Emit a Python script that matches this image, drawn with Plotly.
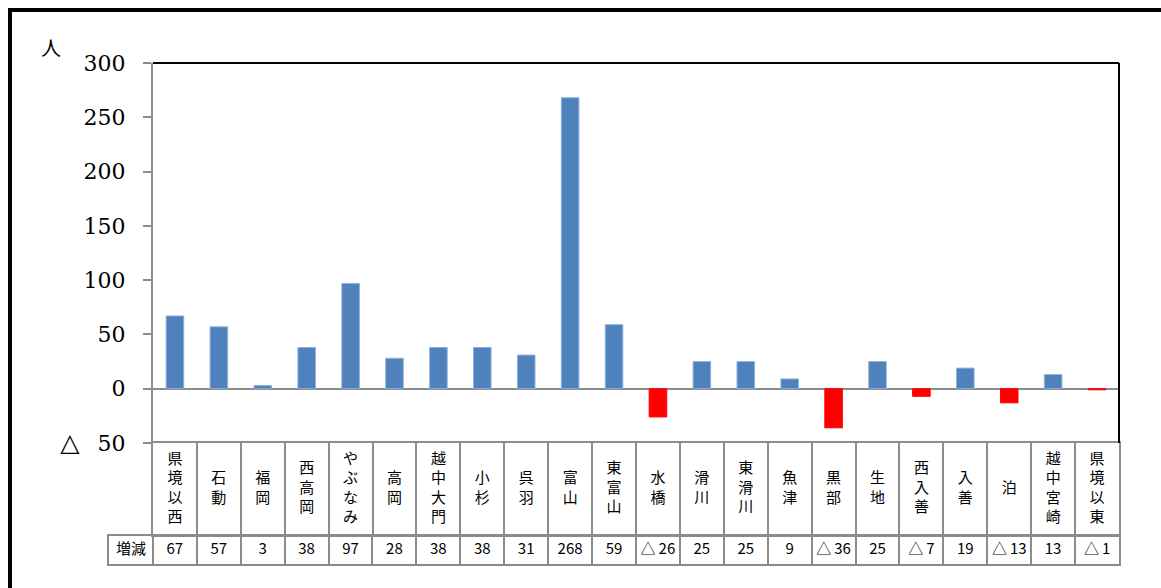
import plotly.graph_objects as go

W, H = 1161, 588

stations = ["県境以西", "石動", "福岡", "西高岡", "やぶなみ", "高岡", "越中大門", "小杉", "呉羽", "富山",
            "東富山", "水橋", "滑川", "東滑川", "魚津", "黒部", "生地", "西入善", "入善", "泊",
            "越中宮崎", "県境以東"]
changes = [67, 57, 3, 38, 97, 28, 38, 38, 31, 268, 59, -26, 25, 25, 9, -36, 25, -7, 19, -13, 13, -1]
row_label = "増減"
y_tickvals = [-50, 0, 50, 100, 150, 200, 250, 300]
y_ticktext = ["<span style='font-size:25px'>△</span>\u2002 50", "0", "50", "100", "150", "200", "250", "300"]
unit_label = "人"

BLUE = "#4F81BD"
BLUE_EDGE = "#8FB0DA"
RED = "#FF0000"
GRID = "#8C8C8C"
SERIF = "DejaVu Serif, Liberation Serif, serif"
SANS = "Noto Sans CJK JP, Noto Sans, sans-serif"


def px_x(p):
    return p / W


def px_y(p):
    return 1 - p / H


def fmt(v):
    return f"△\u2009{abs(v)}" if v < 0 else str(v)


def vertical(s):
    return "<br>".join(list(s))


plot_left, plot_right = 153, 1119
plot_top, plot_bottom = 63, 443
head_bottom = 535
val_top, val_bottom = 536, 564
label_left = 109

fig = go.Figure()

# main bars
fig.add_trace(go.Bar(
    x=stations, y=changes,
    marker=dict(color=[BLUE if v >= 0 else RED for v in changes],
                line=dict(width=1, color=[BLUE_EDGE if v >= 0 else RED for v in changes])),
    xaxis="x", yaxis="y", showlegend=False, hoverinfo="x+y",
))

# header row (station names, vertical)
fig.add_trace(go.Scatter(
    x=stations, y=[0.5] * len(stations),
    text=[vertical(s) for s in stations],
    mode="text", textposition="middle center",
    textfont=dict(family=SANS, size=15, color="black"),
    xaxis="x2", yaxis="y2", showlegend=False, hoverinfo="skip",
))

# value row
cats3 = [row_label] + stations
fig.add_trace(go.Scatter(
    x=cats3, y=[0.5] * len(cats3),
    text=[row_label] + [fmt(v) for v in changes],
    mode="text", textposition="middle center",
    textfont=dict(family=SANS, size=15, color="black"),
    xaxis="x3", yaxis="y3", showlegend=False, hoverinfo="skip",
))

n = len(stations)
fig.update_layout(
    width=W, height=H, autosize=False,
    margin=dict(l=0, r=0, t=0, b=0),
    paper_bgcolor="white", plot_bgcolor="white",
    bargap=0.6,
    xaxis=dict(domain=[px_x(plot_left), px_x(plot_right)], type="category",
               categoryorder="array", categoryarray=stations,
               range=[-0.5, n - 0.5], showticklabels=False, ticks="",
               showgrid=False, zeroline=False, showline=False, automargin=False,
               anchor="y"),
    yaxis=dict(domain=[px_y(plot_bottom), px_y(plot_top)], range=[-50, 300],
               tickvals=y_tickvals, ticktext=y_ticktext,
               tickfont=dict(family=SERIF, size=22, color="black"),
               ticks="outside", ticklen=8, tickwidth=2, tickcolor=GRID,
               ticklabelstandoff=13,
               showline=True, linecolor=GRID, linewidth=2,
               showgrid=False, zeroline=True, zerolinecolor=GRID, zerolinewidth=2,
               automargin=False, anchor="x"),
    xaxis2=dict(domain=[px_x(plot_left), px_x(plot_right)], type="category",
                categoryorder="array", categoryarray=stations,
                range=[-0.5, n - 0.5], showticklabels=False, ticks="",
                tickson="boundaries", showgrid=True, gridcolor=GRID, gridwidth=2,
                zeroline=False, showline=True, mirror=True, linecolor=GRID, linewidth=2,
                automargin=False, anchor="y2"),
    yaxis2=dict(domain=[px_y(head_bottom), px_y(plot_bottom)], range=[0, 1],
                showticklabels=False, ticks="", showgrid=False, zeroline=False,
                showline=True, mirror=True, linecolor=GRID, linewidth=2,
                automargin=False, anchor="x2"),
    xaxis3=dict(domain=[px_x(label_left), px_x(plot_right)], type="category",
                categoryorder="array", categoryarray=cats3,
                range=[-0.5, n + 0.5], showticklabels=False, ticks="",
                tickson="boundaries", showgrid=True, gridcolor=GRID, gridwidth=2,
                zeroline=False, showline=True, mirror=True, linecolor=GRID, linewidth=2,
                automargin=False, anchor="y3"),
    yaxis3=dict(domain=[px_y(val_bottom), px_y(val_top)], range=[0, 1],
                showticklabels=False, ticks="", showgrid=False, zeroline=False,
                showline=True, mirror=True, linecolor=GRID, linewidth=2,
                automargin=False, anchor="x3"),
    shapes=[
        # black top and right border of plot area
        dict(type="line", xref="x domain", yref="y domain", x0=0, x1=1, y0=1, y1=1,
             line=dict(color="black", width=2)),
        dict(type="line", xref="x domain", yref="y domain", x0=1, x1=1, y0=0, y1=1,
             line=dict(color="black", width=2)),
        # outer frame
        dict(type="rect", xref="paper", yref="paper",
             x0=px_x(10), x1=1.05, y0=-0.05, y1=px_y(10),
             line=dict(color="black", width=4), fillcolor="rgba(0,0,0,0)", layer="above"),
    ],
    annotations=[
        dict(text=unit_label, xref="paper", yref="paper", x=px_x(51), y=px_y(47),
             xanchor="center", yanchor="middle", showarrow=False,
             font=dict(family="Noto Sans CJK JP", size=20, color="black")),
    ],
)

fig.write_html(
    "out.html",
    config={"displayModeBar": False},
    post_script="document.body.style.margin='0';document.body.style.overflow='hidden';",
)
